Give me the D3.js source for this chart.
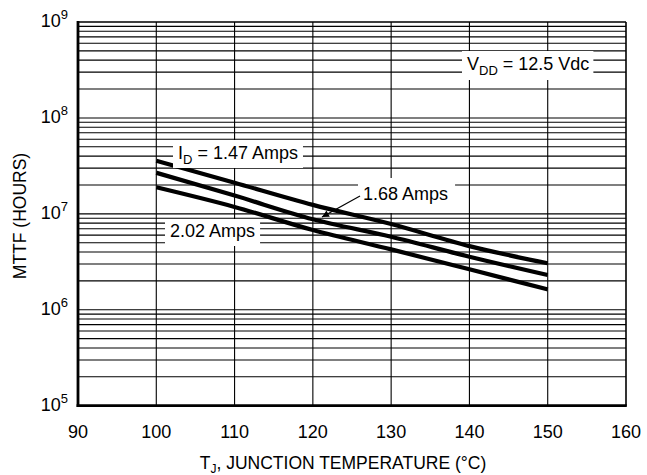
<!DOCTYPE html>
<html>
<head>
<meta charset="utf-8">
<script src="https://cdn.jsdelivr.net/npm/d3@7"></script>
<style>
  html, body { margin: 0; padding: 0; background: #fff; }
  svg { display: block; }
  text { font-family: "Liberation Sans", Arial, Helvetica, sans-serif; fill: #000; }
</style>
</head>
<body>
<svg id="chart" width="647" height="475"></svg>
<script>
// ---- data ----
const temperatures = [100, 110, 120, 130, 140, 150];          // T_J (°C)
const mttf147 = [3.58e7, 2.11e7, 1.24e7, 7.83e6, 4.61e6, 3.05e6]; // I_D = 1.47 A
const mttf168 = [2.68e7, 1.55e7, 8.77e6, 5.77e6, 3.57e6, 2.30e6]; // I_D = 1.68 A
const mttf202 = [1.89e7, 1.18e7, 6.78e6, 4.26e6, 2.64e6, 1.63e6]; // I_D = 2.02 A
const xTicks = [90, 100, 110, 120, 130, 140, 150, 160];
const yDecades = [5, 6, 7, 8, 9];   // exponents shown as 10^n

const svg = d3.select("#chart");
const pLeft = 78, pRight = 626, pTop = 22, pBottom = 405.7;

const x = d3.scaleLinear().domain([90, 160]).range([pLeft, pRight]);
const y = d3.scaleLog().domain([1e5, 1e9]).range([pBottom, pTop]);

// ---- grid ----
const grid = svg.append("g");
const minorY = [];
for (let e = 5; e < 9; e++) for (let k = 1; k <= 9; k++) minorY.push(k * Math.pow(10, e));
grid.selectAll("line.h").data(minorY).join("line")
  .attr("x1", pLeft).attr("x2", pRight)
  .attr("y1", d => y(d)).attr("y2", d => y(d))
  .attr("stroke", "#000").attr("stroke-width", 1.1);
grid.selectAll("line.v").data(xTicks.slice(1, -1)).join("line")
  .attr("x1", d => x(d)).attr("x2", d => x(d))
  .attr("y1", pTop).attr("y2", pBottom)
  .attr("stroke", "#000").attr("stroke-width", 1.1);

// frame
svg.append("line").attr("x1", pLeft).attr("x2", pRight).attr("y1", pTop).attr("y2", pTop)
  .attr("stroke", "#000").attr("stroke-width", 1.6);
svg.append("line").attr("x1", pRight).attr("x2", pRight).attr("y1", pTop).attr("y2", pBottom)
  .attr("stroke", "#000").attr("stroke-width", 1.6);
svg.append("line").attr("x1", pLeft).attr("x2", pLeft).attr("y1", pTop - 1).attr("y2", pBottom + 1.4)
  .attr("stroke", "#000").attr("stroke-width", 2.8);
svg.append("line").attr("x1", pLeft - 1.4).attr("x2", pRight + 0.8).attr("y1", pBottom).attr("y2", pBottom)
  .attr("stroke", "#000").attr("stroke-width", 2.8);

// ---- curves ----
const line = d3.line().x(d => x(d[0])).y(d => y(d[1])).curve(d3.curveMonotoneX);
[mttf147, mttf168, mttf202].forEach(series => {
  svg.append("path")
    .datum(temperatures.map((t, i) => [t, series[i]]))
    .attr("d", line)
    .attr("fill", "none").attr("stroke", "#000").attr("stroke-width", 4.2)
    .attr("stroke-linecap", "butt");
});

// ---- axes tick labels ----
svg.append("g").selectAll("text").data(xTicks).join("text")
  .attr("x", d => x(d)).attr("y", 438)
  .attr("text-anchor", "middle").attr("font-size", 18)
  .text(d => d);

const yl = svg.append("g").selectAll("text").data(yDecades).join("text")
  .attr("x", 68).attr("y", d => y(Math.pow(10, d)) + 5)
  .attr("text-anchor", "end").attr("font-size", 18);
yl.append("tspan").text("10");
yl.append("tspan").attr("font-size", 13).attr("dy", -8).text(d => d);

// axis titles
const xt = svg.append("text").attr("x", 343).attr("y", 469)
  .attr("text-anchor", "middle").attr("font-size", 17.5);
xt.append("tspan").text("T");
xt.append("tspan").attr("font-size", 12).attr("dy", 4).text("J");
xt.append("tspan").attr("dy", -4).text(", JUNCTION TEMPERATURE (°C)");

svg.append("text").attr("transform", "translate(26,216) rotate(-90)")
  .attr("text-anchor", "middle").attr("font-size", 17.5)
  .text("MTTF (HOURS)");

// ---- annotations with white boxes ----
function label(xp, yp, parts, box) {
  const g = svg.append("g");
  const rect = g.append("rect").attr("fill", "#fff");
  const t = g.append("text").attr("x", xp).attr("y", yp).attr("font-size", 18);
  parts.forEach(p => {
    const s = t.append("tspan").text(p.t);
    if (p.sub) s.attr("font-size", 13).attr("dy", 5);
    if (p.back) s.attr("dy", -5);
  });
  const b = t.node().getBBox();
  rect.attr("x", b.x - box[0]).attr("y", b.y - box[1])
      .attr("width", b.width + box[0] + box[2]).attr("height", b.height + box[1] + box[3]);
  return g;
}

label(178, 159, [{t: "I"}, {t: "D", sub: true}, {t: " = 1.47 Amps", back: true}], [5, 3, 5, 1]);
label(467, 70, [{t: "V"}, {t: "DD", sub: true}, {t: " = 12.5 Vdc", back: true}], [5, 3, 4, 2]);
label(363, 200, [{t: "1.68 Amps"}], [5, 6, 7, 9]);
label(170, 237, [{t: "2.02 Amps"}], [5, 2, 5, 5]);

// leader arrow for 1.68 Amps
svg.append("defs").append("marker")
  .attr("id", "arr").attr("viewBox", "0 0 10 10").attr("refX", 10).attr("refY", 5)
  .attr("markerWidth", 10).attr("markerHeight", 7).attr("markerUnits", "userSpaceOnUse")
  .attr("orient", "auto")
  .append("path").attr("d", "M0,0 L10,5 L0,10 Z").attr("fill", "#000");
svg.append("line").attr("x1", 360).attr("y1", 196).attr("x2", 322).attr("y2", 217)
  .attr("stroke", "#000").attr("stroke-width", 1.2).attr("marker-end", "url(#arr)");
</script>
</body>
</html>
